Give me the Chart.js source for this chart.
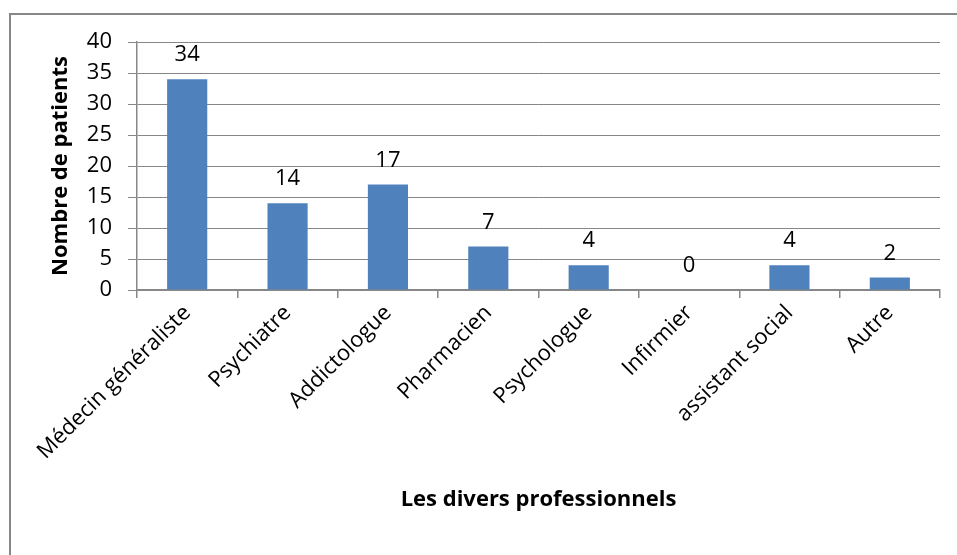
<!DOCTYPE html>
<html>
<head>
<meta charset="utf-8">
<script src="https://cdn.jsdelivr.net/npm/chart.js@4"></script>
<style>
  html, body { margin: 0; padding: 0; background: #fff; }
  #wrap { width: 957px; height: 555px; position: relative; }
</style>
</head>
<body>
<div id="wrap"><canvas id="myChart" width="957" height="555"></canvas></div>
<script>
const categories = ['Médecin généraliste', 'Psychiatre', 'Addictologue', 'Pharmacien', 'Psychologue', 'Infirmier', 'assistant social', 'Autre'];
const patients = [34, 14, 17, 7, 4, 0, 4, 2];
const yTicks = [0, 5, 10, 15, 20, 25, 30, 35, 40];

const ctx = document.getElementById('myChart');
const font = '"Open Sans", "Liberation Sans", sans-serif';

// outer frame (only top and left edge visible in the picture)
const frame = {
  id: 'frame',
  beforeDraw(chart) {
    const c = chart.ctx;
    c.save();
    c.fillStyle = '#fff';
    c.fillRect(0, 0, chart.width, chart.height);
    c.strokeStyle = '#878787';
    c.lineWidth = 2;
    c.beginPath();
    c.moveTo(10, chart.height);
    c.lineTo(10, 14);
    c.lineTo(chart.width, 14);
    c.stroke();
    c.restore();
  }
};

// value labels above bars
const barLabels = {
  id: 'barLabels',
  afterDatasetsDraw(chart) {
    const c = chart.ctx;
    const meta = chart.getDatasetMeta(0);
    c.save();
    c.font = '22px ' + font;
    c.fillStyle = '#000';
    c.textAlign = 'center';
    c.textBaseline = 'alphabetic';
    meta.data.forEach((bar, i) => {
      c.fillText(String(patients[i]), bar.x, bar.y - 18);
    });
    c.restore();
  }
};

const data = {
  labels: categories,
  datasets: [{
    data: patients,
    backgroundColor: '#4F81BD',
    borderWidth: 0,
    barPercentage: 0.4,
    categoryPercentage: 1
  }]
};

const config = {
  type: 'bar',
  data: data,
  plugins: [frame, barLabels],
  options: {
    responsive: false,
    animation: false,
    layout: { padding: { left: 48, right: 17, top: 42, bottom: 0 } },
    plugins: { legend: { display: false }, tooltip: { enabled: false } },
    scales: {
      x: {
        grid: { drawOnChartArea: false, drawTicks: true, tickLength: 8, color: '#878787', lineWidth: 1.5 },
        border: { color: '#878787', width: 1.5 },
        ticks: {
          color: '#000', font: { family: font, size: 22 },
          maxRotation: 45, minRotation: 45, padding: 2, autoSkip: false
        },
        title: {
          display: true, text: 'Les divers professionnels', color: '#000',
          font: { family: font, size: 22, weight: 'bold' },
          padding: { top: 0, bottom: 42 }
        },
        afterFit: (s) => { s.height = 555 - 290; }
      },
      y: {
        min: 0, max: 40,
        afterBuildTicks: (s) => { s.ticks = yTicks.map(v => ({ value: v })); },
        grid: { color: '#878787', lineWidth: 1, tickLength: 9 },
        border: { color: '#878787', width: 1.5 },
        ticks: { color: '#000', font: { family: font, size: 22 }, padding: 16 },
        title: {
          display: true, text: 'Nombre de patients', color: '#000',
          font: { family: font, size: 22, weight: 'bold' },
          padding: 0
        },
        afterFit: (s) => { s.width = 137 - 48; }
      }
    }
  }
};

let chart = new Chart(ctx, config);
</script>
</body>
</html>
